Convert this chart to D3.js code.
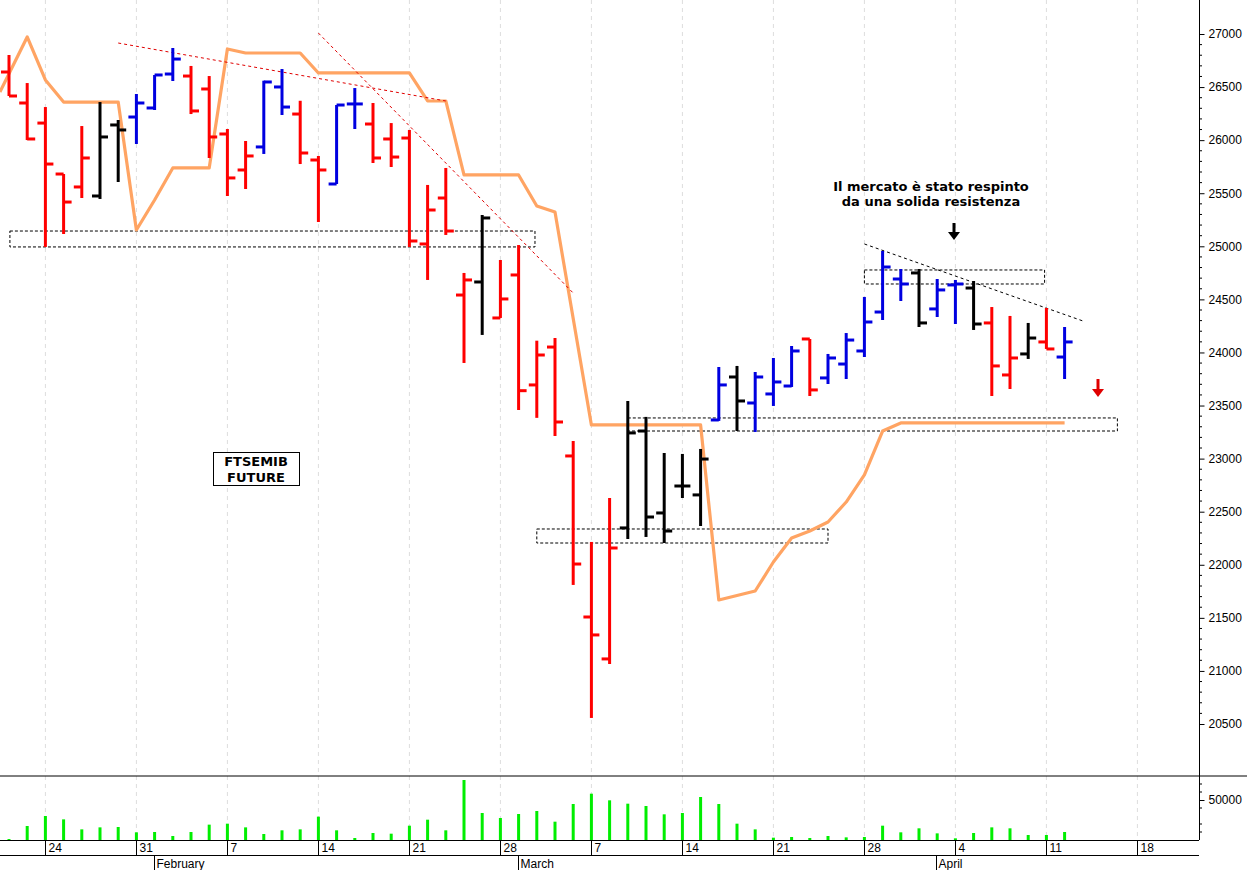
<!DOCTYPE html>
<html><head><meta charset="utf-8">
<script src="https://cdn.jsdelivr.net/npm/d3@7"></script>
<style>body{margin:0;background:#fff}svg{display:block;font-family:"DejaVu Sans",Verdana,sans-serif}</style>
</head><body><svg id="c" width="1247" height="870"></svg>
<script>
// trading days Jan 20 .. Apr 12
const dates = ["Jan20","Jan21","Jan24","Jan25","Jan26","Jan27","Jan28","Jan31","Feb1","Feb2","Feb3","Feb4","Feb7","Feb8","Feb9","Feb10","Feb11","Feb14","Feb15","Feb16","Feb17","Feb18","Feb21","Feb22","Feb23","Feb24","Feb25","Feb28","Mar1","Mar2","Mar3","Mar4","Mar7","Mar8","Mar9","Mar10","Mar11","Mar14","Mar15","Mar16","Mar17","Mar18","Mar21","Mar22","Mar23","Mar24","Mar25","Mar28","Mar29","Mar30","Mar31","Apr1","Apr4","Apr5","Apr6","Apr7","Apr8","Apr11","Apr12"];
const opens  = [26642,26350,26161,25681,25559,25474,26143,26218,26303,26623,26604,26482,26058,25719,25936,26501,26246,25813,25587,26341,26152,26011,26020,25022,25455,24541,24664,24325,24730,23694,24051,23025,21508,21113,22347,23260,22488,22742,22658,23364,23769,23524,23609,23684,24127,23760,23891,24014,24381,24692,24749,24410,24636,24607,24278,23788,23986,24099,23957];
const highs  = [26802,26538,26312,25681,26133,26359,26190,26435,26614,26868,26699,26604,26105,25992,26560,26670,26371,25851,26331,26491,26350,26161,26096,25578,25738,24749,25295,24871,25012,24111,24136,23166,22215,22629,23543,23393,23053,23044,23091,23863,23873,23816,23948,24061,24127,23986,24183,24523,24956,24786,24786,24692,24683,24673,24428,24344,24278,24419,24240];
const lows   = [26416,26001,24994,25116,25455,25446,25606,25964,26284,26557,26246,25832,25474,25540,25870,26237,25775,25229,25587,26105,25785,25747,24994,24683,25107,23901,24165,24325,23458,23384,23213,21810,20557,21065,22243,22262,22205,22629,22365,23355,23260,23251,23496,23675,23590,23703,23750,23957,24306,24485,24240,24334,24268,24212,23590,23656,23939,24033,23750];
const closes = [26416,26011,25775,25417,25832,26030,26096,26350,26614,26764,26275,26030,25644,25851,26548,26312,25879,25719,26331,26341,25832,25841,25050,25342,25144,24683,25267,24504,23640,23976,23345,22007,21339,22158,23242,22450,22318,22742,22996,23694,23543,23769,23722,24014,23647,23948,24117,24287,24805,24645,24278,24589,24645,24268,23873,23948,24136,24033,24099];
const colors = ["r","r","r","r","r","k","k","b","b","b","r","r","r","r","b","b","r","r","b","b","r","r","r","r","r","r","k","r","r","r","r","r","r","r","k","k","k","k","k","b","k","b","b","b","r","b","b","b","b","b","k","b","b","k","r","r","k","r","b"];
const volumes = [1250,17500,30000,25800,13300,15800,16250,9600,10000,5000,10000,19200,20400,15800,7500,12100,13300,29200,12100,2500,8750,7900,17900,25400,12100,75000,33750,27500,32500,36250,22900,45000,57900,49600,45400,42500,32100,33750,53750,45000,20400,13300,2900,3750,2500,5000,3300,3750,17900,9600,14600,8300,2100,8750,15800,14600,6250,6250,10000];
// orange stepped line: [day index, price]
const lineIdx = [-0.5,1,2,3,6,7,8,9,11,12,13,16,17,19,22,23,24,25,28,29,30,32,38,39,41,42,43,44,45,46,47,48,49,58];
const lineVal = [26454,26972,26567,26359,26359,25154,25436,25738,25738,26859,26821,26821,26633,26633,26633,26369,26369,25672,25672,25380,25323,23317,23317,21668,21753,22026,22252,22318,22403,22591,22846,23260,23336,23336];
// dashed zones [i0,i1,pTop,pBottom]
const zones = [[0.05,28.9,25144,24994],[29,45,22337,22205],[34,60.9,23383,23260],[47,56.9,24777,24645]];
const trendLines = [[6,26915,24,26369,"#e00000"],[17,27009,31,24560,"#e00000"],[47,25022,59,24297,"#000"]];
const priceTicks = d3.range(20500,27001,500);
const weekTicks = [[2,"24"],[7,"31"],[12,"7"],[17,"14"],[22,"21"],[27,"28"],[32,"7"],[37,"14"],[42,"21"],[47,"28"],[52,"4"],[57,"11"],[62,"18"]];
const months = [[8,"February"],[28,"March"],[51,"April"]];

const svg = d3.select("#c");
const X0=9, STEP=18.2;
const x = d3.scaleLinear().domain([0,1]).range([X0,X0+STEP]);
const y = d3.scaleLinear().domain([20500,27000]).range([724,34]);
const yv = d3.scaleLinear().domain([0,50000]).range([840,800]);
const colMap={r:"#ff0000",b:"#0000e0",k:"#000"};
const R=1199;

weekTicks.forEach(([i])=>{ if(x(i)<R){
  svg.append("line").attr("x1",x(i)).attr("x2",x(i)).attr("y1",0).attr("y2",840).attr("stroke","#ddd").attr("stroke-dasharray","4,4");
}});
zones.forEach(([a,b,t,bt])=>svg.append("rect").attr("x",x(a)).attr("width",x(b)-x(a)).attr("y",y(t)).attr("height",y(bt)-y(t))
 .attr("fill","none").attr("stroke","#000").attr("stroke-dasharray","3,2"));
svg.append("path").datum(lineIdx.map((d,i)=>[d,lineVal[i]]))
 .attr("d",d3.line().x(d=>x(d[0])).y(d=>y(d[1]))).attr("fill","none").attr("stroke","#ffa463").attr("stroke-width",3.2).attr("stroke-linejoin","round");
trendLines.forEach(([a,p,b,q,c])=>svg.append("line").attr("x1",x(a)).attr("y1",y(p)).attr("x2",x(b)).attr("y2",y(q))
 .attr("stroke",c).attr("stroke-width",1).attr("stroke-dasharray","3,3"));
const g=svg.append("g");
dates.forEach((d,i)=>{
  const c=colMap[colors[i]], cx=x(i);
  g.append("line").attr("x1",cx).attr("x2",cx).attr("y1",y(highs[i])).attr("y2",y(lows[i])).attr("stroke",c).attr("stroke-width",3);
  g.append("line").attr("x1",cx-8).attr("x2",cx).attr("y1",y(opens[i])).attr("y2",y(opens[i])).attr("stroke",c).attr("stroke-width",3);
  g.append("line").attr("x1",cx).attr("x2",cx+8).attr("y1",y(closes[i])).attr("y2",y(closes[i])).attr("stroke",c).attr("stroke-width",3);
});
volumes.forEach((v,i)=>svg.append("rect").attr("x",x(i)-1.5).attr("width",3).attr("y",yv(v)).attr("height",840-yv(v)).attr("fill","#00ee00"));
svg.append("line").attr("x1",0).attr("x2",1247).attr("y1",776).attr("y2",776).attr("stroke","#000");
svg.append("line").attr("x1",0).attr("x2",R).attr("y1",840.5).attr("y2",840.5).attr("stroke","#000");
svg.append("line").attr("x1",0).attr("x2",R).attr("y1",855.5).attr("y2",855.5).attr("stroke","#000");
svg.append("line").attr("x1",R+.5).attr("x2",R+.5).attr("y1",0).attr("y2",840).attr("stroke","#000");
const ax=svg.append("g").attr("transform",`translate(${R+.5},0)`).call(d3.axisRight(y).tickValues(priceTicks).tickSize(5).tickFormat(d3.format("d")));
ax.select(".domain").remove();
ax.selectAll("text").attr("font-size",12).attr("x",9).attr("fill","#000").attr("font-family","Liberation Sans,Arial,sans-serif");
d3.range(20500,27001,100).forEach(p=>{ if(p%500) svg.append("line").attr("x1",R).attr("x2",R+3).attr("y1",y(p)).attr("y2",y(p)).attr("stroke","#000");});
const av=svg.append("g").attr("transform",`translate(${R+.5},0)`).call(d3.axisRight(yv).tickValues([50000]).tickSize(5).tickFormat(d3.format("d")));
av.select(".domain").remove();
av.selectAll("text").attr("font-size",12).attr("x",9).attr("fill","#000").attr("font-family","Liberation Sans,Arial,sans-serif");
[10000,20000,40000,60000,70000].forEach(v=>svg.append("line").attr("x1",R).attr("x2",R+3).attr("y1",yv(v)).attr("y2",yv(v)).attr("stroke","#000"));
weekTicks.forEach(([i,l])=>{ const xx=Math.round(x(i))+.5; if(xx<R){
  svg.append("line").attr("x1",xx).attr("x2",xx).attr("y1",840).attr("y2",855).attr("stroke","#000");
  svg.append("text").attr("x",xx+3).attr("y",852).attr("font-size",12).attr("font-family","Liberation Sans,Arial,sans-serif").text(l);
}});
months.forEach(([i,l])=>{ const xx=Math.round(x(i)-1)+.5;
  svg.append("line").attr("x1",xx).attr("x2",xx).attr("y1",855).attr("y2",870).attr("stroke","#000");
  svg.append("text").attr("x",xx+2).attr("y",868).attr("font-size",12).attr("font-family","Liberation Sans,Arial,sans-serif").text(l);
});
const tA=svg.append("text").attr("text-anchor","middle").attr("font-size",13).attr("font-weight","bold").attr("font-family","DejaVu Sans,sans-serif");
tA.append("tspan").attr("x",931).attr("y",191).text("Il mercato è stato respinto");
tA.append("tspan").attr("x",931).attr("y",206).text("da una solida resistenza");
function arrow(cx,y1,y2,c){
  svg.append("line").attr("x1",cx).attr("x2",cx).attr("y1",y1).attr("y2",y2-5).attr("stroke",c).attr("stroke-width",3);
  svg.append("path").attr("d",`M${cx-6},${y2-8}L${cx+6},${y2-8}L${cx},${y2}Z`).attr("fill",c);
}
arrow(954,223,240,"#000");
arrow(1098,379,397,"#e00000");
svg.append("rect").attr("x",213.5).attr("y",452.5).attr("width",86).attr("height",33).attr("fill","#fff").attr("stroke","#000");
const tF=svg.append("text").attr("text-anchor","middle").attr("font-size",13).attr("font-weight","bold").attr("font-family","DejaVu Sans,sans-serif");
tF.append("tspan").attr("x",256).attr("y",466).text("FTSEMIB");
tF.append("tspan").attr("x",256).attr("y",482).text("FUTURE");
</script></body></html>
